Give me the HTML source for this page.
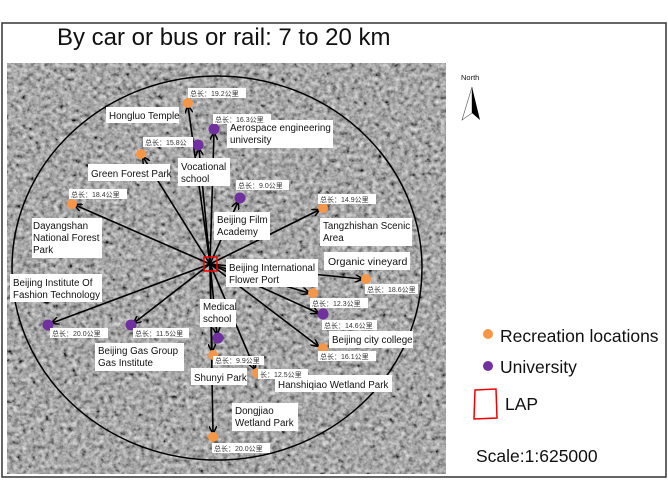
<!DOCTYPE html>
<html><head><meta charset="utf-8"><style>
html,body{margin:0;padding:0;background:#fff;}
svg{display:block}
text{font-family:"Liberation Sans","Noto Sans CJK SC",sans-serif;}
</style></head><body>
<svg width="668" height="501" viewBox="0 0 668 501" xmlns="http://www.w3.org/2000/svg">
<defs>
<filter id="n" x="0" y="0" width="100%" height="100%">
<feTurbulence type="fractalNoise" baseFrequency="0.22" numOctaves="3" seed="4"/>
<feColorMatrix type="matrix" values="0.33 0.33 0.33 0 0  0.33 0.33 0.33 0 0  0.33 0.33 0.33 0 0  0 0 0 0 1"/>
<feComponentTransfer><feFuncR type="linear" slope="1.9" intercept="-0.5"/><feFuncG type="linear" slope="1.9" intercept="-0.5"/><feFuncB type="linear" slope="1.9" intercept="-0.5"/></feComponentTransfer>
</filter>
<marker id="a" markerWidth="8" markerHeight="8" refX="7" refY="4" orient="auto" markerUnits="userSpaceOnUse"><path d="M0,0 L8,4 L0,8" fill="none" stroke="#000" stroke-width="1.5"/></marker>
</defs>
<rect x="0" y="0" width="668" height="501" fill="#fff"/>
<rect x="2" y="23" width="664" height="454" fill="#fff" stroke="#333" stroke-width="1.5"/>
<text x="57" y="45" font-size="24" fill="#111">By car or bus or rail: 7 to 20 km</text>
<rect x="7" y="63" width="439" height="411" fill="#6e6e6e"/>
<rect x="7" y="63" width="439" height="411" filter="url(#n)" opacity="0.85"/>
<ellipse cx="217" cy="268" rx="205" ry="192" fill="none" stroke="#000" stroke-width="1.5"/>
<g stroke="#000" stroke-width="1.6" marker-end="url(#a)">
<line x1="210" y1="264" x2="188" y2="106"/>
<line x1="210" y1="264" x2="214" y2="133"/>
<line x1="210" y1="264" x2="199" y2="149"/>
<line x1="210" y1="264" x2="143" y2="157"/>
<line x1="210" y1="264" x2="75" y2="205"/>
<line x1="210" y1="264" x2="238" y2="202"/>
<line x1="210" y1="264" x2="319" y2="210"/>
<line x1="210" y1="264" x2="362" y2="279"/>
<line x1="210" y1="264" x2="309" y2="293"/>
<line x1="210" y1="264" x2="318" y2="313"/>
<line x1="210" y1="264" x2="318" y2="346"/>
<line x1="210" y1="264" x2="52" y2="323"/>
<line x1="210" y1="264" x2="134" y2="323"/>
<line x1="210" y1="264" x2="217" y2="334"/>
<line x1="210" y1="264" x2="212" y2="351"/>
<line x1="210" y1="264" x2="255" y2="369"/>
<line x1="210" y1="264" x2="213" y2="433"/>
</g>
<rect x="204" y="257" width="13" height="14" fill="none" stroke="#e00" stroke-width="1.5"/>
<g fill="#f79646">
<circle cx="188" cy="103" r="5"/><circle cx="141" cy="154" r="5"/><circle cx="72" cy="204" r="5"/>
<circle cx="323" cy="208" r="5"/><circle cx="366" cy="279" r="5"/><circle cx="313" cy="293" r="5"/>
<circle cx="323" cy="348" r="5"/><circle cx="213" cy="355" r="5"/><circle cx="257" cy="373" r="5"/><circle cx="213" cy="437" r="5"/>
</g>
<g fill="#7030a0">
<circle cx="214" cy="129" r="5.5"/><circle cx="198" cy="145" r="5.5"/><circle cx="240" cy="198" r="5.5"/>
<circle cx="323" cy="314" r="5.5"/><circle cx="48" cy="325" r="5.5"/><circle cx="131" cy="325" r="5.5"/><circle cx="218" cy="338" r="5.5"/>
</g>
<g fill="#fff">
<rect x="106" y="107" width="73" height="16"/>
<rect x="227" y="120" width="106" height="28"/>
<rect x="178" y="158" width="52" height="28"/>
<rect x="88" y="164" width="82" height="17"/>
<rect x="32" y="218" width="70" height="40"/>
<rect x="214" y="212" width="56" height="28"/>
<rect x="320" y="218" width="92" height="28"/>
<rect x="324" y="252" width="86" height="18"/>
<rect x="226" y="259" width="92" height="28"/>
<rect x="10" y="274" width="92" height="28"/>
<rect x="329" y="331" width="84" height="17"/>
<rect x="200" y="299" width="36" height="28"/>
<rect x="95" y="343" width="89" height="28"/>
<rect x="191" y="368" width="56" height="17"/>
<rect x="275" y="375" width="117" height="17"/>
<rect x="232" y="403" width="66" height="28"/>
</g>
<g font-size="9.8" fill="#111">
<text x="109" y="119">Hongluo Temple</text>
<text x="230" y="131">Aerospace engineering</text><text x="230" y="143">university</text>
<text x="181" y="170">Vocational</text><text x="181" y="182">school</text>
<text x="91" y="177">Green Forest Park</text>
<text x="33" y="229">Dayangshan</text><text x="33" y="241">National Forest</text><text x="33" y="253">Park</text>
<text x="217" y="223">Beijing Film</text><text x="217" y="235">Academy</text>
<text x="323" y="229">Tangzhishan Scenic</text><text x="323" y="241">Area</text>
<text x="328" y="265" font-size="10.5">Organic vineyard</text>
<text x="229" y="271">Beijing International</text><text x="229" y="283">Flower Port</text>
<text x="13" y="286">Beijing Institute Of</text><text x="13" y="298">Fashion Technology</text>
<text x="332" y="343">Beijing city college</text>
<text x="203" y="310">Medical</text><text x="203" y="322">school</text>
<text x="98" y="354">Beijing Gas Group</text><text x="98" y="366">Gas Institute</text>
<text x="194" y="381">Shunyi Park</text>
<text x="278" y="388">Hanshiqiao Wetland Park</text>
<text x="235" y="414">Dongjiao</text><text x="235" y="426">Wetland Park</text>
</g>
<g font-size="7" fill="#333" style="font-family:'Noto Sans CJK SC',sans-serif">
<g fill="#fff"><rect x="188" y="88" width="58" height="10"/><rect x="213" y="114" width="58" height="10"/><rect x="143" y="137" width="50" height="10"/><rect x="69" y="189" width="58" height="10"/><rect x="236" y="180" width="53" height="10"/><rect x="318" y="194" width="58" height="10"/><rect x="365" y="284" width="53" height="10"/><rect x="310" y="298" width="58" height="10"/><rect x="322" y="320" width="55" height="10"/><rect x="318" y="351" width="58" height="10"/><rect x="50" y="328" width="58" height="10"/><rect x="133" y="328" width="56" height="10"/><rect x="213" y="356" width="51" height="9"/><rect x="258" y="369" width="50" height="10"/><rect x="212" y="443" width="58" height="10"/></g>
<text x="190" y="96">总长：19.2公里</text>
<text x="215" y="122">总长：16.3公里</text>
<text x="145" y="145">总长：15.8公</text>
<text x="71" y="197">总长：18.4公里</text>
<text x="238" y="188">总长：9.0公里</text>
<text x="320" y="202">总长：14.9公里</text>
<text x="367" y="292">总长：18.6公里</text>
<text x="312" y="306">总长：12.3公里</text>
<text x="324" y="328">总长：14.6公里</text>
<text x="320" y="359">总长：16.1公里</text>
<text x="52" y="336">总长：20.0公里</text>
<text x="135" y="336">总长：11.5公里</text>
<text x="215" y="363">总长：9.9公里</text>
<text x="260" y="377">长：12.5公里</text>
<text x="214" y="451">总长：20.0公里</text>
</g>
<text x="461" y="80" font-size="7.5" fill="#111">North</text>
<polygon points="472,87 462,120 472,113" fill="#fff" stroke="#555" stroke-width="0.6"/>
<polygon points="472,87 480,120 472,113" fill="#000"/>
<circle cx="488" cy="334" r="5" fill="#f79646"/>
<text x="500" y="342" font-size="17.5" fill="#111">Recreation locations</text>
<circle cx="488" cy="366" r="5" fill="#7030a0"/>
<text x="500" y="373" font-size="17.5" fill="#111">University</text>
<polygon points="475,390 496,389 497,418 474,419" fill="none" stroke="#e00" stroke-width="1.5"/>
<text x="505" y="410" font-size="17.5" fill="#111">LAP</text>
<text x="476" y="462" font-size="17.5" fill="#111">Scale:1:625000</text>
</svg>
</body></html>
